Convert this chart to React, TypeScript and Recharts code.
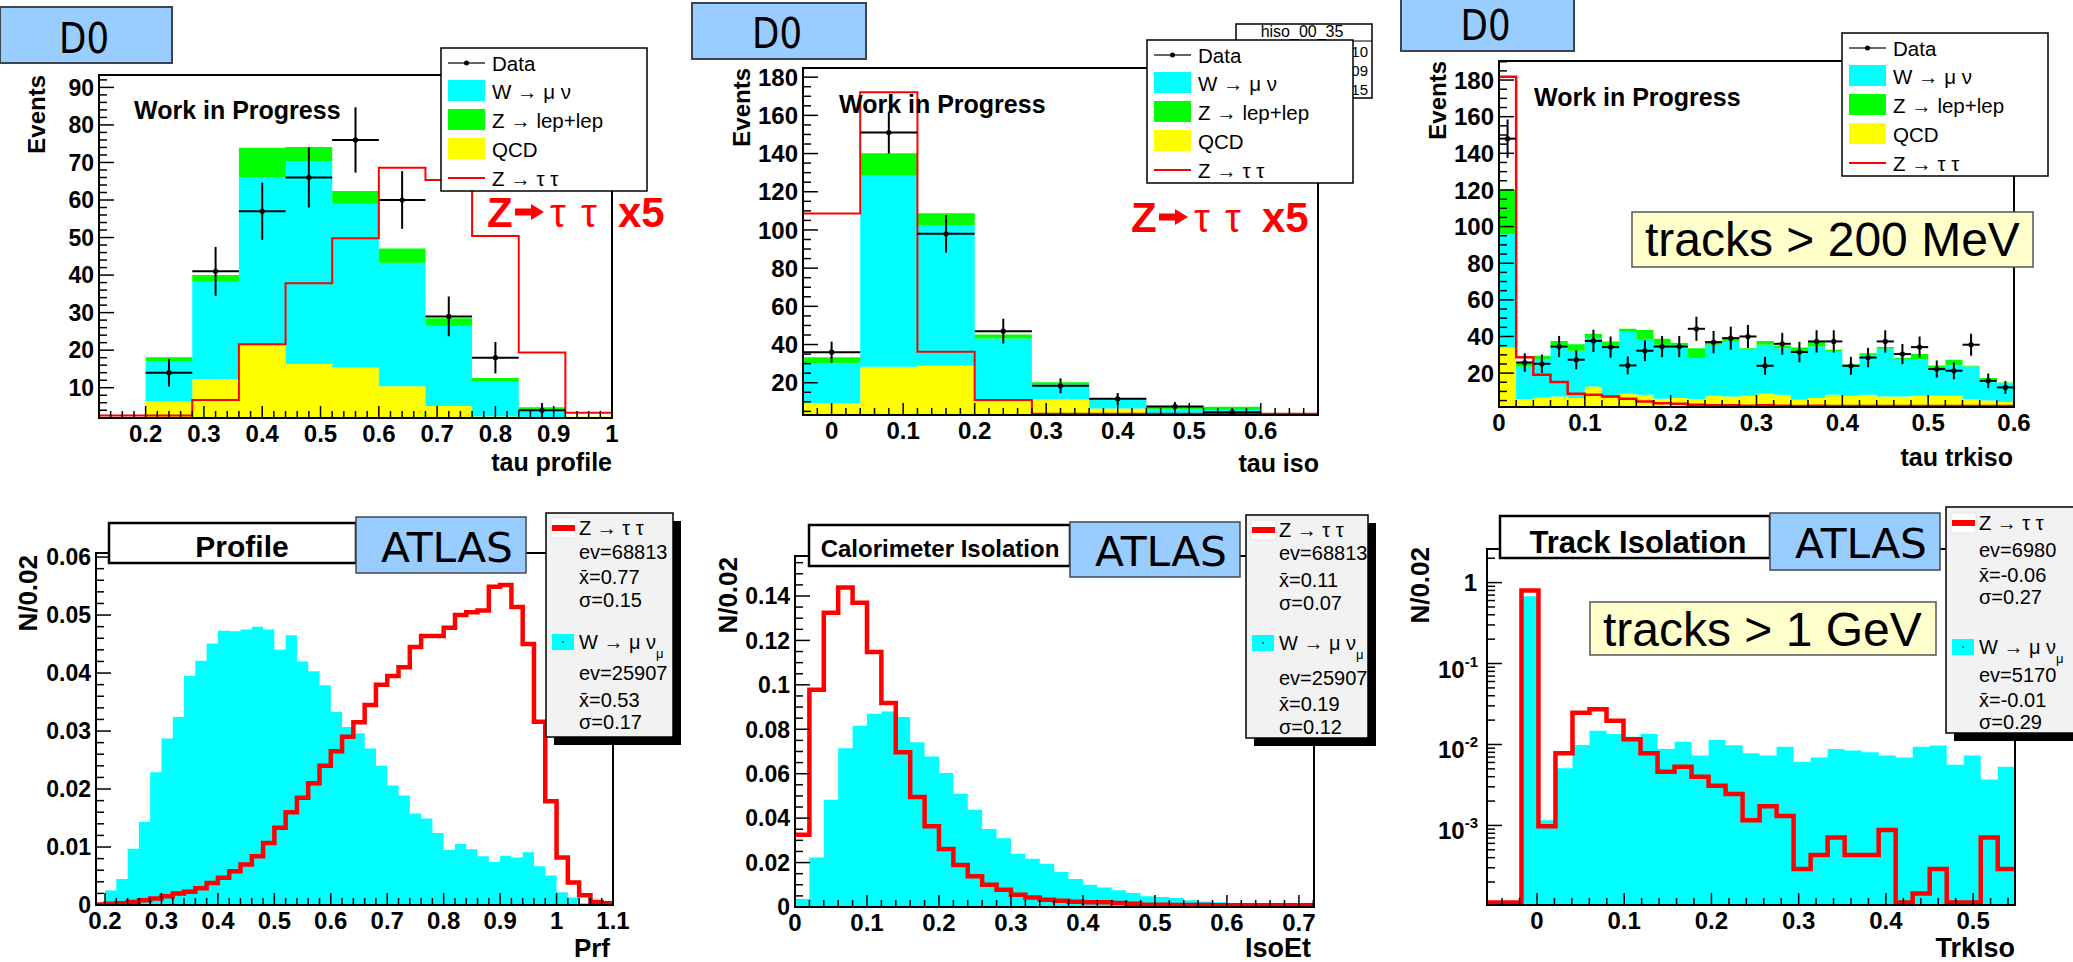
import React from "react";
import { ComposedChart, Area, Line, Scatter, ErrorBar, XAxis, YAxis } from "recharts";

const SANS = '"Liberation Sans", Arial, Helvetica, sans-serif';
const HAND = '"DejaVu Sans", sans-serif';
const CYAN = "#00ffff";
const GREEN = "#00ff00";
const YELLOW = "#ffff00";
const RED = "#ff0000";
const SKY = "#99ccff";

const binEdges = (lo: number, width: number, n: number) =>
  Array.from({ length: n + 1 }, (_, i) => Math.round((lo + i * width) * 1e6) / 1e6);
const tickRange = (lo: number, hi: number, step: number) =>
  Array.from({ length: Math.round((hi - lo) / step) + 1 }, (_, i) => Math.round((lo + i * step) * 1e6) / 1e6);

// ---------------- DØ : tau profile (top left) ----------------
const PRF_EDGES = binEdges(0.12, 0.08, 11);
const PRF_QCD = [0, 6.4, 12.3, 21.6, 16.3, 15.4, 10.4, 5.1, 2.3, 1.0, 2.3];
const PRF_WMN = [0, 10.7, 25.9, 44.4, 54.0, 43.6, 32.9, 21.4, 9.3, 3.2, 0];
const PRF_ZLL = [0, 1.0, 1.8, 7.9, 3.8, 3.4, 3.8, 2.0, 1.0, 0.6, 0];
const PRF_ZTT = [2.6, 2.6, 6.7, 21.6, 37.8, 49.8, 68.6, 65.3, 50.4, 19.4, 3.3];
const PRF_DATA = [null, 14, 41, 57, 66, 76, 60, 29, 18, 4, null];
const PRF_ERR = [0, 3.7, 6.5, 7.6, 8, 8.7, 7.7, 5.3, 4.2, 1.9, 0];
const PRF_X_MAJOR = [0.2, 0.3, 0.4, 0.5, 0.6, 0.7, 0.8, 0.9, 1];
const PRF_X_TICKS = tickRange(0.12, 1.0, 0.02);
const PRF_Y_MAJOR = [10, 20, 30, 40, 50, 60, 70, 80, 90];
const PRF_Y_TICKS = tickRange(2, 92, 2);

// ---------------- DØ : tau iso (top middle) ----------------
const ISO_EDGES = binEdges(-0.04, 0.08, 9);
const ISO_QCD = [9.2, 28.4, 28.9, 10.9, 11.3, 6.5, 3.9, 4.0, 0];
const ISO_WMN = [20.9, 100.4, 73.7, 32.3, 7.8, 4.9, 2.1, 1.7, 0];
const ISO_ZLL = [3.2, 11.4, 6.1, 2.1, 1.2, 0.4, 1.4, 1.7, 0];
const ISO_ZTT = [108.6, 172.1, 36.2, 10.9, 3.8, 3.8, 3.8, 3.8, 3.8];
const ISO_DATA = [36, 151, 98, 47, 18.4, 11.6, 7.6, 4.6, null];
const ISO_ERR = [5.5, 11, 9.8, 6.5, 3.9, 3, 2.3, 1.5, 0];
const ISO_X_MAJOR = [0, 0.1, 0.2, 0.3, 0.4, 0.5, 0.6];
const ISO_X_TICKS = tickRange(-0.04, 0.68, 0.02);
const ISO_Y_MAJOR = [20, 40, 60, 80, 100, 120, 140, 160, 180];
const ISO_Y_TICKS = tickRange(5, 180, 5);

// ---------------- DØ : tau trkiso (top right) ----------------
const TRK_EDGES = binEdges(0, 0.02, 30);
const TRK_QCD = [34, 5.8, 6.7, 7.3, 6.4, 12.7, 6.4, 8.7, 8.2, 6.0, 6.4, 5.8, 7.6, 7.3, 7.6, 8.7, 8.2, 5.5, 6.4, 8.2, 7.6, 8.2, 7.3, 7.3, 7.6, 7.6, 7.6, 5.8, 5.1, 4.2];
const TRK_WMN = [61.8, 17.8, 20.6, 27.8, 25.8, 26.4, 28.1, 34.0, 30.3, 29.5, 28.7, 22.4, 27.9, 30.0, 25.1, 26.8, 25.4, 25.4, 28.1, 23.6, 16.9, 21.4, 26.0, 20.0, 19.7, 15.1, 16.6, 17.8, 11.3, 10.3];
const TRK_ZLL = [24.2, 1.9, 2.2, 2.5, 3.6, 2.4, 2.8, 1.5, 5.1, 3.2, 1.3, 5.4, 2.1, 1.8, 0.9, 2.1, 1.5, 3.1, 2.8, 0.9, 0.4, 1.3, 0.9, 0.9, 3.2, 1.5, 3.1, 0.4, 0.9, 0.4];
const TRK_ZTT = [181.8, 28.7, 19.1, 15.1, 8.7, 8.2, 7.3, 6.0, 4.5, 3.6, 3.3, 2.7, 2.4, 2.4, 2.2, 2.4, 2.2, 2.0, 2.2, 2.0, 2.0, 2.0, 2.0, 2.0, 2.0, 2.0, 2.0, 2.0, 2.0, 2.0];
const TRK_DATA = [148, 25.8, 25.1, 34.5, 27.3, 37.6, 34.2, 24.2, 32.2, 34.5, 34.5, 44.2, 36.9, 39.1, 40, 24.0, 36, 31.5, 37.3, 37.3, 24.0, 28.5, 37.3, 30.4, 34.2, 22.2, 21.3, 35.5, 15.8, 12.2];
const TRK_ERR = [10.5, 5, 5, 5.8, 5.2, 6.1, 5.8, 4.9, 5.7, 5.8, 5.8, 6.6, 6.1, 6.3, 6.3, 4.9, 6, 5.6, 6.1, 6.1, 4.9, 5.3, 6.1, 5.5, 5.8, 4.7, 4.6, 6, 4, 3.5];
const TRK_X_MAJOR = [0, 0.1, 0.2, 0.3, 0.4, 0.5, 0.6];
const TRK_X_TICKS = tickRange(0, 0.6, 0.02);
const TRK_Y_MAJOR = [20, 40, 60, 80, 100, 120, 140, 160, 180];
const TRK_Y_TICKS = tickRange(5, 190, 5);

// ---------------- ATLAS : Profile (bottom left) ----------------
const PRF2_EDGES = binEdges(0.18, 0.02, 46);
const PRF2_WMN = [0, 0.0025, 0.0045, 0.0097, 0.0143, 0.0229, 0.0287, 0.0324, 0.0395, 0.0421, 0.0451, 0.0473, 0.0472, 0.0475, 0.048, 0.0475, 0.044, 0.0465, 0.042, 0.0403, 0.0379, 0.0333, 0.0307, 0.0296, 0.027, 0.024, 0.0206, 0.0189, 0.0158, 0.0149, 0.0124, 0.0095, 0.0105, 0.0096, 0.0084, 0.0074, 0.0085, 0.0082, 0.0091, 0.0067, 0.0051, 0.0022, 0.0013, 0.0003, 0, 0];
const PRF2_ZTT = [0.0001, 0.0002, 0.0003, 0.0005, 0.0008, 0.0011, 0.0015, 0.002, 0.0023, 0.0029, 0.0038, 0.0047, 0.0058, 0.007, 0.0084, 0.0107, 0.0133, 0.016, 0.0185, 0.021, 0.024, 0.0265, 0.029, 0.0315, 0.0345, 0.038, 0.0395, 0.041, 0.0445, 0.0464, 0.0464, 0.0478, 0.05, 0.0505, 0.0508, 0.0549, 0.0552, 0.0514, 0.045, 0.0316, 0.0179, 0.0082, 0.0039, 0.0017, 0.0005, 0.0003];
const PRF2_X_MAJOR = [0.2, 0.3, 0.4, 0.5, 0.6, 0.7, 0.8, 0.9, 1, 1.1];
const PRF2_X_TICKS = tickRange(0.2, 1.1, 0.02);
const PRF2_Y_MAJOR = [0, 0.01, 0.02, 0.03, 0.04, 0.05, 0.06];
const PRF2_Y_TICKS = tickRange(0, 0.06, 0.002);

// ---------------- ATLAS : Calorimeter isolation (bottom middle) ----------------
const ISO2_EDGES = binEdges(0, 0.02, 36);
const ISO2_WMN = [0.0036, 0.0223, 0.0483, 0.0715, 0.0816, 0.087, 0.088, 0.0855, 0.0742, 0.0678, 0.0603, 0.051, 0.0438, 0.0351, 0.031, 0.024, 0.0217, 0.0195, 0.0157, 0.0126, 0.01, 0.0088, 0.0075, 0.0063, 0.0048, 0.0045, 0.004, 0.003, 0.0025, 0.0021, 0.0018, 0.0012, 0.0009, 0.0006, 0.0004, 0.0003];
const ISO2_ZTT = [0.0325, 0.0978, 0.1325, 0.1438, 0.137, 0.1148, 0.0918, 0.0697, 0.0495, 0.0363, 0.0261, 0.0189, 0.0138, 0.01, 0.0078, 0.0055, 0.0043, 0.0033, 0.0028, 0.0024, 0.0021, 0.0021, 0.0018, 0.0015, 0.001, 0.001, 0.0009, 0.0009, 0.0009, 0.0008, 0.0008, 0.0008, 0.0008, 0.0008, 0.0008, 0.0008];
const ISO2_X_MAJOR = [0, 0.1, 0.2, 0.3, 0.4, 0.5, 0.6, 0.7];
const ISO2_X_TICKS = tickRange(0, 0.72, 0.02);
const ISO2_Y_MAJOR = [0, 0.02, 0.04, 0.06, 0.08, 0.1, 0.12, 0.14];
const ISO2_Y_TICKS = tickRange(0, 0.155, 0.005);

// ---------------- ATLAS : Track isolation (bottom right, log) ----------------
const TRK2_EDGES = binEdges(-0.0178, 0.0195, 29);
const TRK2_WMN = [0.68, 0.00116, 0.00507, 0.00984, 0.0148, 0.0135, 0.0125, 0.0135, 0.0088, 0.0108, 0.0073, 0.0114, 0.0098, 0.0078, 0.0073, 0.0094, 0.0061, 0.0069, 0.0088, 0.0084, 0.008, 0.0073, 0.0069, 0.0094, 0.0097, 0.0056, 0.0073, 0.0037, 0.0053];
const TRK2_ZTT = [0.8, 0.00098, 0.0078, 0.0247, 0.0272, 0.0197, 0.0116, 0.0078, 0.0046, 0.0053, 0.004, 0.0031, 0.00244, 0.00116, 0.00173, 0.00131, 0.00029, 0.00043, 0.00071, 0.00043, 0.00043, 0.00088, 0, 0.000144, 0.00029, 0, 0, 0.00071, 0.00029];
const TRK2_X_MAJOR = [0, 0.1, 0.2, 0.3, 0.4, 0.5];
const TRK2_X_TICKS = tickRange(-0.04, 0.54, 0.02);
const TRK2_Y_MAJOR = [0.001, 0.01, 0.1, 1];
const TRK2_Y_DOMAIN: [number, number] = [1.04e-4, 2.6];
const TRK2_Y_TICKS = [1e-4, 1e-3, 1e-2, 1e-1, 1]
  .flatMap((d) => [1, 2, 3, 4, 5, 6, 7, 8, 9].map((m) => +(m * d).toPrecision(3)))
  .filter((v) => v >= TRK2_Y_DOMAIN[0] && v <= TRK2_Y_DOMAIN[1]);
const LOG_FLOOR = 1.12e-4;

const STATS = {
  prf: { ztt: ["68813", "0.77", "0.15"], wmn: ["25907", "0.53", "0.17"] },
  iso: { ztt: ["68813", "0.11", "0.07"], wmn: ["25907", "0.19", "0.12"] },
  trk: { ztt: ["6980", "-0.06", "0.27"], wmn: ["5170", "-0.01", "0.29"] },
};

// ---------------- layout ----------------
type Frame = { x0: number; x1: number; y0: number; y1: number };
const FRAMES: Record<string, Frame> = {
  prf: { x0: 99, x1: 612, y0: 75, y1: 418 },
  iso: { x0: 803, x1: 1318, y0: 68, y1: 415 },
  trk: { x0: 1499, x1: 2014, y0: 61, y1: 407 },
  prf2: { x0: 96, x1: 613, y0: 553, y1: 905 },
  iso2: { x0: 795, x1: 1314, y0: 556, y1: 907 },
  trk2: { x0: 1487, x1: 2015, y0: 549, y1: 905 },
};
const PAD_L = 100;
const PAD_T = 10;
const PAD_R = 32;
const PAD_B = 56;

type Row = Record<string, number>;
function stepRows(edges: number[], cols: Record<string, number[]>): Row[] {
  return edges.map((x, i) => {
    const row: Row = { x };
    Object.keys(cols).forEach((k) => {
      const vals = cols[k];
      row[k] = vals[Math.min(i, vals.length - 1)];
    });
    return row;
  });
}
function dataPoints(edges: number[], ys: (number | null)[], errs: number[]) {
  const pts: Row[] = [];
  ys.forEach((y, i) => {
    if (y == null) return;
    pts.push({ x: (edges[i] + edges[i + 1]) / 2, y, ex: (edges[i + 1] - edges[i]) / 2, ey: errs[i] });
  });
  return pts;
}

type AxisCfg = { domain: [number, number]; ticks: number[]; majors: number[]; fs: number; log?: boolean };
const near = (a: number, b: number) => Math.abs(a - b) <= 1e-9 + 1e-6 * Math.abs(b);
const fmt = (v: number) => String(Math.round(v * 10000) / 10000);

function makeXTick(ax: AxisCfg) {
  return (p: any) => {
    const v = p.payload.value;
    const major = ax.majors.some((m) => near(v, m));
    return (
      <g>
        <line x1={p.x} x2={p.x} y1={p.y} y2={p.y - (major ? 12 : 7)} stroke="#000" strokeWidth={1.5} />
        {major && (
          <text x={p.x} y={p.y + 24} textAnchor="middle" fontFamily={SANS} fontWeight={700} fontSize={ax.fs} fill="#000">
            {fmt(v)}
          </text>
        )}
      </g>
    );
  };
}

function makeYTick(ax: AxisCfg) {
  return (p: any) => {
    const v = p.payload.value;
    const major = ax.majors.some((m) => near(v, m));
    let label: React.ReactNode = null;
    if (major && ax.log) {
      const e = Math.round(Math.log10(v));
      label =
        e === 0 ? (
          <text x={p.x - 10} y={p.y} dy="0.36em" textAnchor="end" fontFamily={SANS} fontWeight={700} fontSize={ax.fs} fill="#000">1</text>
        ) : (
          <text x={p.x - 9} y={p.y + 14} textAnchor="end" fontFamily={SANS} fontWeight={700} fontSize={ax.fs} fill="#000">
            <tspan>10</tspan>
            <tspan dy={-11} fontSize={15}>{e}</tspan>
          </text>
        );
    } else if (major) {
      label = (
        <text x={p.x - 5} y={p.y} dy="0.36em" textAnchor="end" fontFamily={SANS} fontWeight={700} fontSize={ax.fs} fill="#000">
          {fmt(v)}
        </text>
      );
    }
    return (
      <g>
        <line x1={p.x} x2={p.x + (major ? 15 : 8)} y1={p.y} y2={p.y} stroke="#000" strokeWidth={1.5} />
        {label}
      </g>
    );
  };
}

function HistPanel({ frame, x, y, data, children }: { frame: Frame; x: AxisCfg; y: AxisCfg; data?: Row[]; children: React.ReactNode }) {
  const width = frame.x1 - frame.x0 + PAD_L + PAD_R;
  const height = frame.y1 - frame.y0 + PAD_T + PAD_B;
  return (
    <div style={{ position: "absolute", left: frame.x0 - PAD_L, top: frame.y0 - PAD_T }}>
      <ComposedChart width={width} height={height} data={data} margin={{ top: PAD_T, right: PAD_R, bottom: 0, left: 0 }}>
        <XAxis type="number" dataKey="x" domain={x.domain} allowDataOverflow ticks={x.ticks} interval={0}
          axisLine={false} tickLine={false} tickSize={0} tickMargin={0} height={PAD_B} tick={makeXTick(x)} />
        <YAxis type="number" scale={y.log ? "log" : "linear"} domain={y.domain} allowDataOverflow ticks={y.ticks} interval={0}
          axisLine={false} tickLine={false} tickSize={0} tickMargin={0} width={PAD_L} tick={makeYTick(y)} />
        {children}
      </ComposedChart>
    </div>
  );
}

const DataDot = (p: any) => <circle cx={p.cx} cy={p.cy} r={2.6} fill="#000" />;

function fill(key: string, color: string, stack?: string, data?: Row[]) {
  return (
    <Area key={key} type="stepAfter" dataKey={key} data={data} stackId={stack} fill={color} fillOpacity={1} stroke="none"
      dot={false} activeDot={false} isAnimationActive={false} />
  );
}
function outline(key: string, width: number, data?: Row[]) {
  return (
    <Line key={"line-" + key} type="stepAfter" dataKey={key} data={data} stroke={RED} strokeWidth={width}
      dot={false} activeDot={false} isAnimationActive={false} />
  );
}
function dataMarks(pts: Row[]) {
  return (
    <Scatter key="data" data={pts} dataKey="y" shape={DataDot} isAnimationActive={false}>
      <ErrorBar dataKey="ey" direction="y" width={0} stroke="#000" strokeWidth={2} />
      <ErrorBar dataKey="ex" direction="x" width={0} stroke="#000" strokeWidth={2} />
    </Scatter>
  );
}

// ---------------- overlay pieces ----------------
const TOP_LEGEND = [
  { label: "Data", kind: "data", color: "#000" },
  { label: "W → μ ν", kind: "fill", color: CYAN },
  { label: "Z → lep+lep", kind: "fill", color: GREEN },
  { label: "QCD", kind: "fill", color: YELLOW },
  { label: "Z → τ τ", kind: "line", color: RED },
];
const LEG_ROWS = [15, 43, 72, 101, 130];

function TopLegend({ x, y }: { x: number; y: number }) {
  return (
    <g>
      <rect x={x} y={y} width={206} height={143} fill="#fff" stroke="#000" strokeWidth={1.5} />
      {TOP_LEGEND.map((e, i) => {
        const cy = y + LEG_ROWS[i];
        return (
          <g key={i}>
            {e.kind === "fill" && <rect x={x + 7} y={cy - 11} width={37} height={21} fill={e.color} />}
            {e.kind === "line" && <line x1={x + 7} x2={x + 44} y1={cy} y2={cy} stroke={e.color} strokeWidth={2} />}
            {e.kind === "data" && (
              <g>
                <line x1={x + 7} x2={x + 44} y1={cy} y2={cy} stroke="#333" strokeWidth={1.5} />
                <circle cx={x + 25.5} cy={cy} r={2.5} fill="#000" />
              </g>
            )}
            <text x={x + 51} y={cy + 7.5} fontFamily={SANS} fontSize={20.5} fill="#000">{e.label}</text>
          </g>
        );
      })}
    </g>
  );
}

function StatBox({ x, y, w, h, rows, s }: { x: number; y: number; w: number; h: number; rows: number[]; s: { ztt: string[]; wmn: string[] } }) {
  const tx = x + 33;
  const line = (i: number, content: React.ReactNode) => (
    <text x={tx} y={y + rows[i] + 7} fontFamily={SANS} fontSize={20} fill="#000">{content}</text>
  );
  return (
    <g>
      <rect x={x + 8} y={y + 8} width={w} height={h} fill="#000" />
      <rect x={x} y={y} width={w} height={h} fill="#f2f2f2" stroke="#000" strokeWidth={1.5} />
      <rect x={x + 5} y={y + rows[0] - 10} width={25} height={20} fill="#fff" stroke="#e4e4e4" />
      <rect x={x + 6} y={y + rows[0] - 3} width={23} height={6} fill={RED} />
      <rect x={x + 6} y={y + rows[4] - 8} width={22} height={16} fill={CYAN} />
      <circle cx={x + 17} cy={y + rows[4]} r={0.8} fill="#000" />
      {line(0, "Z → τ τ")}
      {line(1, "ev=" + s.ztt[0])}
      {line(2, "x\u0304=" + s.ztt[1])}
      {line(3, "σ=" + s.ztt[2])}
      {line(4, <><tspan>W → μ ν</tspan><tspan dy={9} fontSize={13}>μ</tspan></>)}
      {line(5, "ev=" + s.wmn[0])}
      {line(6, "x\u0304=" + s.wmn[1])}
      {line(7, "σ=" + s.wmn[2])}
    </g>
  );
}

function RedTag({ x, y }: { x: number; y: number }) {
  const ay = y - 15;
  return (
    <g fill={RED}>
      <text x={x} y={y} fontFamily={SANS} fontWeight={700} fontSize={42}>Z</text>
      <path d={`M${x + 28} ${ay - 3.5} H${x + 44} V${ay - 8} L${x + 57} ${ay} L${x + 44} ${ay + 8} V${ay + 3.5} H${x + 28} Z`} />
      <text x={x + 63} y={y} fontFamily={SANS} fontSize={40}>τ</text>
      <text x={x + 94} y={y} fontFamily={SANS} fontSize={40}>τ</text>
      <text x={x + 131} y={y} fontFamily={SANS} fontWeight={700} fontSize={42}>x5</text>
    </g>
  );
}

const D0_BOXES = [
  { x: 0, y: 7, w: 172, h: 56, base: 53 },
  { x: 692, y: 3, w: 174, h: 56, base: 48 },
  { x: 1401, y: -2, w: 173, h: 53, base: 40 },
];
const ATLAS_BOXES = [
  { x: 356, y: 517, w: 170, h: 56, base: 562 },
  { x: 1070, y: 522, w: 170, h: 55, base: 566 },
  { x: 1770, y: 513, w: 170, h: 57, base: 558 },
];
const TITLE_BOXES = [
  { x: 109, y: 523, w: 247, h: 40, cx: 242, text: "Profile", fs: 30, base: 557 },
  { x: 809, y: 525, w: 261, h: 41, cx: 940, text: "Calorimeter Isolation", fs: 24, base: 557 },
  { x: 1500, y: 516, w: 270, h: 42, cx: 1638, text: "Track Isolation", fs: 31, base: 553 },
];
const NOTE_BOXES = [
  { x: 1632, y: 212, w: 401, h: 55, tx: 1645, base: 256, text: "tracks > 200 MeV" },
  { x: 1590, y: 602, w: 346, h: 53, tx: 1603, base: 646, text: "tracks > 1 GeV" },
];
const WIP = [
  { x: 134, y: 119 },
  { x: 839, y: 113 },
  { x: 1534, y: 106 },
];
const Y_TITLES = [
  { x: 45, y: 75, text: "Events", fs: 24 },
  { x: 750, y: 68, text: "Events", fs: 24 },
  { x: 1446, y: 61, text: "Events", fs: 24 },
  { x: 37, y: 555, text: "N/0.02", fs: 26 },
  { x: 737, y: 557, text: "N/0.02", fs: 26 },
  { x: 1429, y: 547, text: "N/0.02", fs: 26 },
];
const X_TITLES = [
  { x: 612, y: 471, text: "tau profile", fs: 25 },
  { x: 1319, y: 472, text: "tau iso", fs: 25 },
  { x: 2013, y: 466, text: "tau trkiso", fs: 25 },
  { x: 610, y: 957, text: "Prf", fs: 26 },
  { x: 1311, y: 957, text: "IsoEt", fs: 27 },
  { x: 2015, y: 957, text: "TrkIso", fs: 27 },
];

function Overlay() {
  return (
    <svg width={2073} height={962} style={{ position: "absolute", left: 0, top: 0, pointerEvents: "none" }}>
      {Object.keys(FRAMES).map((k) => {
        const f = FRAMES[k];
        return <rect key={k} x={f.x0} y={f.y0} width={f.x1 - f.x0} height={f.y1 - f.y0} fill="none" stroke="#000" strokeWidth={2} />;
      })}

      {/* DØ boxes */}
      {D0_BOXES.map((b, i) => (
        <g key={"d0" + i}>
          <rect x={b.x} y={b.y} width={b.w} height={b.h} fill={SKY} stroke="#3a4552" strokeWidth={2} />
          <text x={b.x + b.w / 2 - 2} y={b.base} textAnchor="middle" fontFamily={HAND} fontSize={42} textLength={50} lengthAdjust="spacingAndGlyphs" fill="#000">D0</text>
        </g>
      ))}

      {WIP.map((w, i) => (
        <text key={"wip" + i} x={w.x} y={w.y} fontFamily={SANS} fontWeight={700} fontSize={25} fill="#000">Work in Progress</text>
      ))}

      <RedTag x={487} y={227} />
      <RedTag x={1131} y={232} />

      {/* stats box partly hidden behind the middle legend */}
      <rect x={1236} y={24} width={136} height={74} fill="#fff" stroke="#000" strokeWidth={1.5} />
      <line x1={1236} x2={1372} y1={41} y2={41} stroke="#000" strokeWidth={1} />
      <text x={1302} y={37} textAnchor="middle" fontFamily={SANS} fontSize={16} fill="#000">hiso_00_35</text>
      <text x={1368} y={57} textAnchor="end" fontFamily={SANS} fontSize={15} fill="#000">10</text>
      <text x={1368} y={76} textAnchor="end" fontFamily={SANS} fontSize={15} fill="#000">0.09</text>
      <text x={1368} y={95} textAnchor="end" fontFamily={SANS} fontSize={15} fill="#000">0.15</text>

      <TopLegend x={441} y={48} />
      <TopLegend x={1147} y={40} />
      <TopLegend x={1842} y={33} />

      {NOTE_BOXES.map((b, i) => (
        <g key={"note" + i}>
          <rect x={b.x} y={b.y} width={b.w} height={b.h} fill="#ffffcc" stroke="#555" strokeWidth={1.5} />
          <text x={b.tx} y={b.base} fontFamily={SANS} fontSize={48} fill="#000">{b.text}</text>
        </g>
      ))}

      {TITLE_BOXES.map((b, i) => (
        <g key={"title" + i}>
          <rect x={b.x} y={b.y} width={b.w} height={b.h} fill="#fff" stroke="#000" strokeWidth={2.5} />
          <text x={b.cx} y={b.base} textAnchor="middle" fontFamily={SANS} fontWeight={700} fontSize={b.fs} fill="#000">{b.text}</text>
        </g>
      ))}
      {ATLAS_BOXES.map((b, i) => (
        <g key={"atlas" + i}>
          <rect x={b.x} y={b.y} width={b.w} height={b.h} fill={SKY} stroke="#404850" strokeWidth={1.5} />
          <text x={b.x + b.w / 2 + 6} y={b.base} textAnchor="middle" fontFamily={HAND} fontSize={40} textLength={132} lengthAdjust="spacingAndGlyphs" fill="#000">ATLAS</text>
        </g>
      ))}

      <StatBox x={546} y={513} w={127} h={224} rows={[15, 39, 64, 87, 129, 160, 187, 209]} s={STATS.prf} />
      <StatBox x={1246} y={515} w={122} h={223} rows={[15, 38, 65, 88, 128, 163, 189, 212]} s={STATS.iso} />
      <StatBox x={1946} y={507} w={140} h={226} rows={[16, 43, 68, 90, 140, 168, 193, 215]} s={STATS.trk} />

      {Y_TITLES.map((t, i) => (
        <text key={"yt" + i} transform={`translate(${t.x},${t.y}) rotate(-90)`} textAnchor="end" fontFamily={SANS} fontWeight={700} fontSize={t.fs} fill="#000">{t.text}</text>
      ))}
      {X_TITLES.map((t, i) => (
        <text key={"xt" + i} x={t.x} y={t.y} textAnchor="end" fontFamily={SANS} fontWeight={700} fontSize={t.fs} fill="#000">{t.text}</text>
      ))}
    </svg>
  );
}

export default function App() {
  const prfRows = stepRows(PRF_EDGES, { qcd: PRF_QCD, wmn: PRF_WMN, zll: PRF_ZLL, ztt: PRF_ZTT });
  const isoRows = stepRows(ISO_EDGES, { qcd: ISO_QCD, wmn: ISO_WMN, zll: ISO_ZLL, ztt: ISO_ZTT });
  const trkRows = stepRows(TRK_EDGES, { qcd: TRK_QCD, wmn: TRK_WMN, zll: TRK_ZLL, ztt: TRK_ZTT });
  const prf2Rows = stepRows(PRF2_EDGES, { wmn: PRF2_WMN, ztt: PRF2_ZTT });
  const iso2Rows = stepRows(ISO2_EDGES, { wmn: ISO2_WMN, ztt: ISO2_ZTT });
  const trk2Fill = stepRows(TRK2_EDGES, { wmn: TRK2_WMN });
  const trk2Line = [{ x: -0.0573, ztt: 0 }, ...stepRows(TRK2_EDGES, { ztt: TRK2_ZTT })].map((r) => ({ x: r.x, ztt: Math.max(r.ztt, LOG_FLOOR) }));

  return (
    <div style={{ position: "relative", width: 2073, height: 962, overflow: "hidden", background: "#fff" }}>
      <style>{"body{margin:0}"}</style>

      <HistPanel frame={FRAMES.prf} data={prfRows}
        x={{ domain: [0.12, 1.0], ticks: PRF_X_TICKS, majors: PRF_X_MAJOR, fs: 24 }}
        y={{ domain: [1.93, 93.3], ticks: PRF_Y_TICKS, majors: PRF_Y_MAJOR, fs: 23 }}>
        {fill("qcd", YELLOW, "s")}
        {fill("wmn", CYAN, "s")}
        {fill("zll", GREEN, "s")}
        {outline("ztt", 2)}
        {dataMarks(dataPoints(PRF_EDGES, PRF_DATA, PRF_ERR))}
      </HistPanel>

      <HistPanel frame={FRAMES.iso} data={isoRows}
        x={{ domain: [-0.04, 0.68], ticks: ISO_X_TICKS, majors: ISO_X_MAJOR, fs: 24 }}
        y={{ domain: [3.1, 184.8], ticks: ISO_Y_TICKS, majors: ISO_Y_MAJOR, fs: 24 }}>
        {fill("qcd", YELLOW, "s")}
        {fill("wmn", CYAN, "s")}
        {fill("zll", GREEN, "s")}
        {outline("ztt", 2)}
        {dataMarks(dataPoints(ISO_EDGES, ISO_DATA, ISO_ERR))}
      </HistPanel>

      <HistPanel frame={FRAMES.trk} data={trkRows}
        x={{ domain: [0, 0.6], ticks: TRK_X_TICKS, majors: TRK_X_MAJOR, fs: 24 }}
        y={{ domain: [1.5, 190.4], ticks: TRK_Y_TICKS, majors: TRK_Y_MAJOR, fs: 24 }}>
        {fill("qcd", YELLOW, "s")}
        {fill("wmn", CYAN, "s")}
        {fill("zll", GREEN, "s")}
        {outline("ztt", 2.5)}
        {dataMarks(dataPoints(TRK_EDGES, TRK_DATA, TRK_ERR))}
      </HistPanel>

      <HistPanel frame={FRAMES.prf2} data={prf2Rows}
        x={{ domain: [0.184, 1.1], ticks: PRF2_X_TICKS, majors: PRF2_X_MAJOR, fs: 24 }}
        y={{ domain: [0, 0.0607], ticks: PRF2_Y_TICKS, majors: PRF2_Y_MAJOR, fs: 23 }}>
        {fill("wmn", CYAN)}
        {outline("ztt", 4.5)}
      </HistPanel>

      <HistPanel frame={FRAMES.iso2} data={iso2Rows}
        x={{ domain: [0, 0.721], ticks: ISO2_X_TICKS, majors: ISO2_X_MAJOR, fs: 24 }}
        y={{ domain: [0, 0.158], ticks: ISO2_Y_TICKS, majors: ISO2_Y_MAJOR, fs: 23 }}>
        {fill("wmn", CYAN)}
        {outline("ztt", 4.5)}
      </HistPanel>

      <HistPanel frame={FRAMES.trk2}
        x={{ domain: [-0.0573, 0.548], ticks: TRK2_X_TICKS, majors: TRK2_X_MAJOR, fs: 24 }}
        y={{ domain: TRK2_Y_DOMAIN, ticks: TRK2_Y_TICKS, majors: TRK2_Y_MAJOR, fs: 24, log: true }}>
        {fill("wmn", CYAN, undefined, trk2Fill)}
        {outline("ztt", 4.5, trk2Line)}
      </HistPanel>

      <Overlay />
    </div>
  );
}
